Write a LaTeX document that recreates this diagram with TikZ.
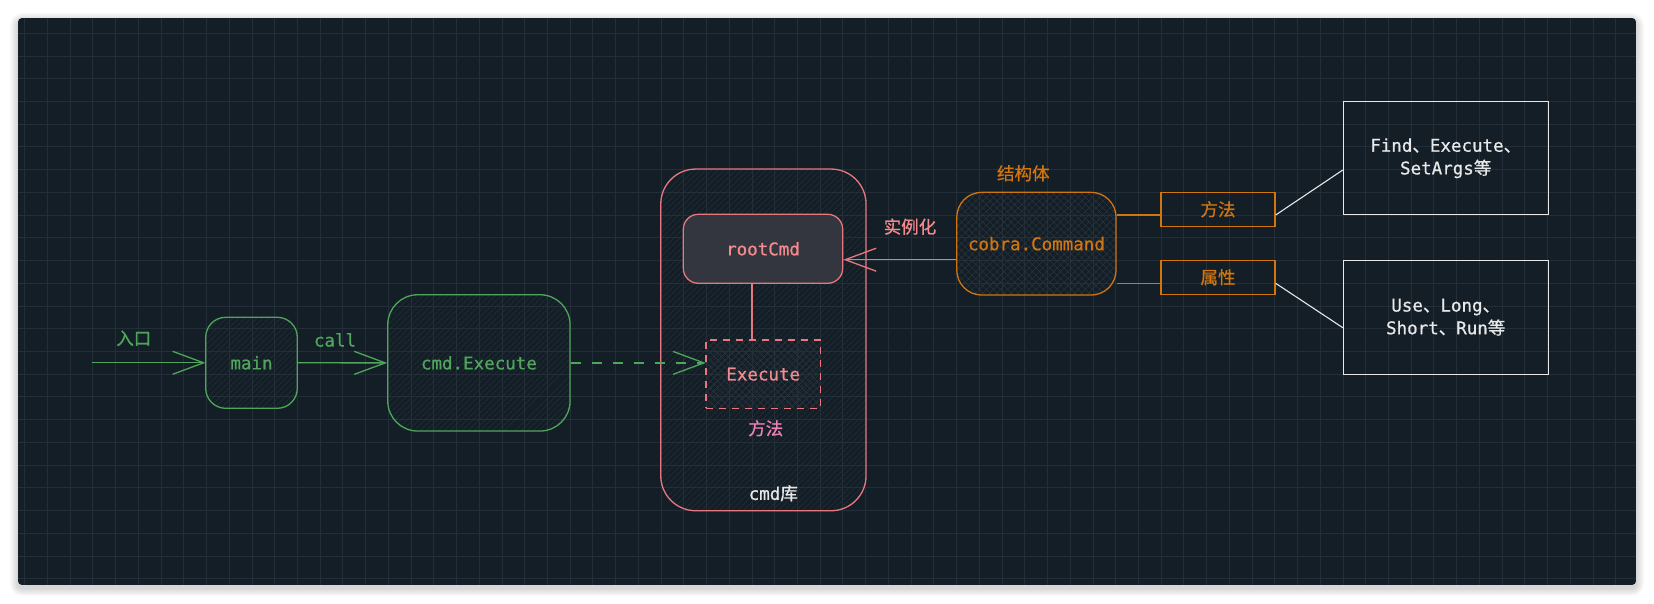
\documentclass[tikz,border=0pt]{standalone}
\usepackage{fontspec}
\setmonofont{DejaVu Sans Mono}[FakeBold=0.7]
\newfontfamily\cjk{Noto Sans CJK SC}[FakeBold=0.7]
\usetikzlibrary{arrows.meta,patterns.meta}

\definecolor{panel}{HTML}{131E27}
\definecolor{gridc}{HTML}{232E38}
\definecolor{hatchc}{HTML}{29343E}
\definecolor{grn}{HTML}{4FA65B}
\definecolor{pnk}{HTML}{E8777F}
\definecolor{pnktxt}{HTML}{F28A8E}
\definecolor{mag}{HTML}{EC82B6}
\definecolor{org}{HTML}{D0750F}
\definecolor{wht}{HTML}{E8E8E8}
\definecolor{rootfill}{HTML}{33363E}

\newcommand{\zh}[1]{{\cjk #1}}

\tikzset{
    tag/.style={font=\ttfamily\fontsize{17.5}{22.7}\selectfont, inner sep=0pt},
    framed/.style={tag, draw, line width=1.3pt, inner sep=0pt, align=center},
    greenbox/.style={framed, draw=grn, text=grn},
    pinkbox/.style={framed, draw=pnk, text=pnktxt},
    orangebox/.style={framed, draw=org, text=org},
    whitebox/.style={framed, draw=wht, text=wht, line width=1.1pt},
    hatched/.style={pattern={Lines[angle=45,distance=4pt,line width=0.5pt]}, pattern color=hatchc},
    crossed/.style={pattern={Hatch[angle=45,distance=5pt,line width=0.5pt]}, pattern color=hatchc},
    barb/.style={-{Straight Barb[length=31pt,width=23pt]}},
    gridline/.style={draw=gridc, line width=1pt},
}

\begin{document}
\begin{tikzpicture}[x=1pt,y=-1pt]
    \useasboundingbox (0,0) rectangle (1654,604);
    \fill[white] (0,0) rectangle (1654,604);

    % panel with soft shadow and grid
    \foreach \s [evaluate=\s as \r using 4+\s] in {1,...,8}
        \fill[black, opacity=0.018, rounded corners=\r pt] (18-\s,18-\s+3) rectangle (1636+\s,585+\s+3);
    \begin{scope}
        \clip[rounded corners=4pt] (18,18) rectangle (1636,585);
        \fill[panel] (18,18) rectangle (1636,585);
        \foreach \i in {0,...,71}
            \draw[gridline] (24.7+\i*22.73,18) -- ++(0,567);
        \foreach \j in {0,...,24}
            \draw[gridline] (18,33.3+\j*22.73) -- ++(1618,0);
    \end{scope}

    \node[greenbox, hatched, minimum width=91.6pt, minimum height=91pt, rounded corners=20pt] (main) at (251.5,362.8) {main};
    \node[greenbox, hatched, minimum width=182.3pt, minimum height=136.3pt, rounded corners=30pt] (cmdexec) at (478.9,362.9) {cmd.Execute};

    \node[pinkbox, hatched, minimum width=205.3pt, minimum height=341.7pt, rounded corners=35pt] (cmdlib) at (763.4,339.9) {};
    \node[pinkbox, fill=rootfill, minimum width=159.4pt, minimum height=69pt, rounded corners=15pt] (rootcmd) at (763,248.8) {rootCmd};
    \node[pinkbox, crossed, dash pattern=on 7pt off 6pt, minimum width=114.3pt, minimum height=68.3pt] (execute) at (763.2,374.2) {Execute};

    \node[orangebox, crossed, minimum width=159.3pt, minimum height=102.7pt, rounded corners=25pt] (cobra) at (1036.4,243.7) {cobra.Command};
    \node[orangebox, minimum width=114pt, minimum height=34pt] (method) at (1218,209.3) {\zh{方法}};
    \node[orangebox, minimum width=114pt, minimum height=34pt] (attr) at (1218,277.3) {\zh{属性}};

    \node[whitebox, minimum width=204.7pt, minimum height=113.3pt] (findbox) at (1445.7,158.3) {Find\zh{、}Execute\zh{、}\\SetArgs\zh{等}};
    \node[whitebox, minimum width=204.7pt, minimum height=113.7pt] (usebox) at (1445.7,317.2) {Use\zh{、}Long\zh{、}\\Short\zh{、}Run\zh{等}};

    \node[tag, text=grn] (entrylbl) at (133.8,338.3) {\zh{入口}};
    \node[tag, text=grn] (calllbl) at (335,340) {call};
    \node[tag, text=pnktxt] (newlbl) at (910,226.7) {\zh{实例化}};
    \node[tag, text=org] (structlbl) at (1023.3,173.3) {\zh{结构体}};
    \node[tag, text=mag] (methodlbl) at (765.7,428.3) {\zh{方法}};
    \node[tag, text=wht] (libname) at (773.3,493.3) {cmd\zh{库}};

    \coordinate (entry) at (91.7,362.8);
    \draw[grn, line width=1.3pt, barb] (entry) -- (main.west);
    \draw[grn, line width=1.3pt, barb] (main.east) -- (cmdexec.west);
    \draw[grn, line width=1.3pt, barb, dash pattern=on 10pt off 11pt] (cmdexec.east) -- (cmdexec.east -| execute.west);

    \draw[pnk, line width=1.3pt] ([xshift=-11pt]rootcmd.south) -- ([xshift=-11pt]rootcmd.south |- execute.north);
    \draw[pnk, line width=1.3pt, barb] ([yshift=-16pt]cobra.west) -- ([yshift=-16pt]cobra.west -| rootcmd.east);

    \draw[org, line width=1.3pt] ([yshift=-5.7pt]method.west -| cobra.east) -- ([yshift=-5.7pt]method.west);
    \draw[org, line width=1.3pt] ([yshift=-6pt]attr.west -| cobra.east) -- ([yshift=-6pt]attr.west);

    \draw[wht, line width=1.1pt] ([yshift=-5.7pt]method.east) -- ([yshift=-11.7pt]findbox.west);
    \draw[wht, line width=1.1pt] ([yshift=-6pt]attr.east) -- ([yshift=-10.5pt]usebox.west);
\end{tikzpicture}
\end{document}
